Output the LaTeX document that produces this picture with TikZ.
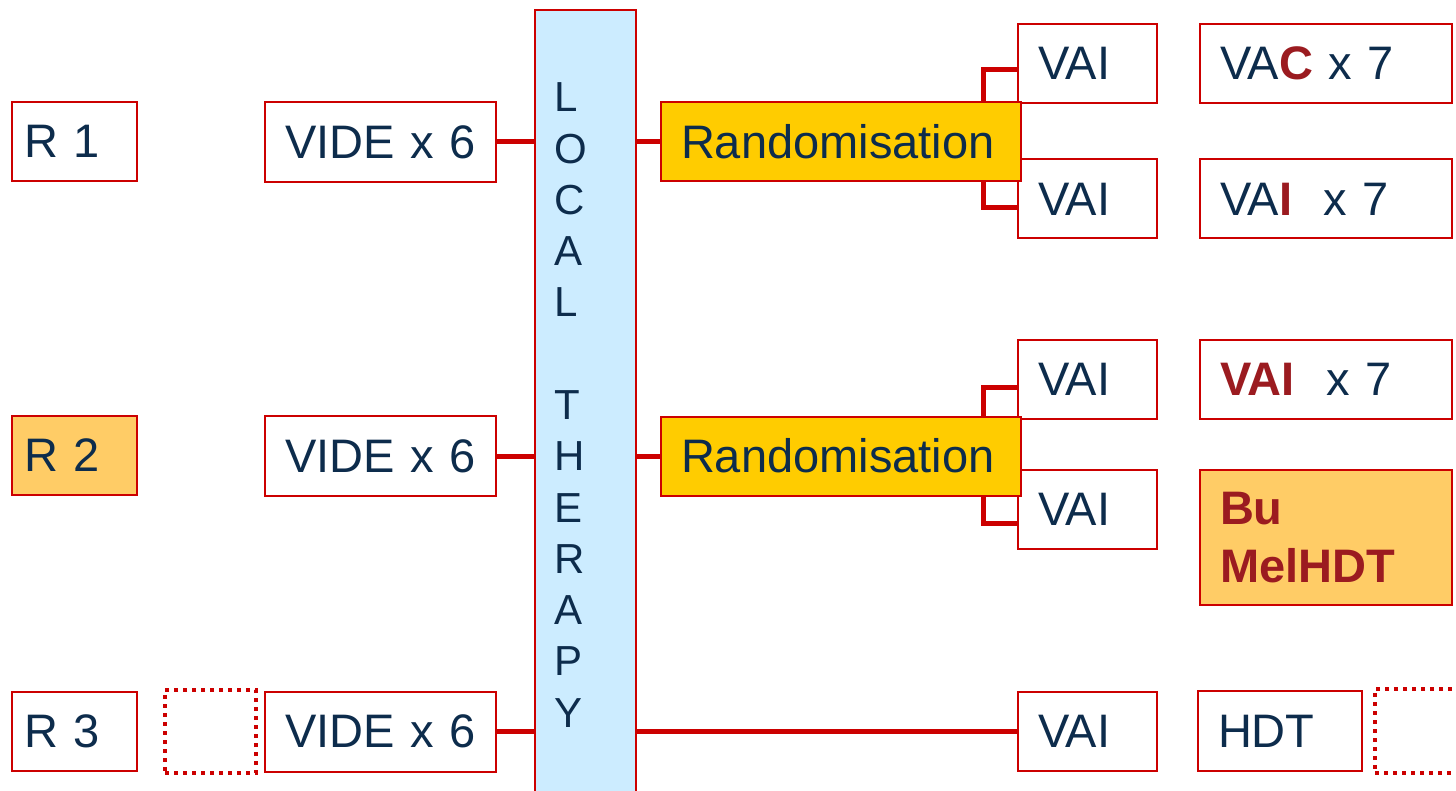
\documentclass[tikz,border=0pt]{standalone}
\usepackage{fontspec}
\setmainfont{Liberation Sans}
\definecolor{boxred}{HTML}{CC0000}
\definecolor{navy}{HTML}{0D2C4C}
\definecolor{darkred}{HTML}{9B1B20}
\definecolor{orangefill}{HTML}{FFCC66}
\definecolor{yellowfill}{HTML}{FFCC00}
\definecolor{barblue}{HTML}{CCECFF}
\newcommand{\hl}[1]{\textcolor{darkred}{\bfseries #1}}
\tikzset{
  bx/.style={draw=boxred, line width=2pt, fill=white, inner xsep=20pt, inner ysep=0pt,
    align=left, text=navy, font=\fontsize{47}{58}\selectfont},
  rbx/.style={bx, inner xsep=12pt, text width=101pt, minimum height=79pt},
  vide/.style={bx, text width=191pt, minimum height=80pt},
  rand/.style={bx, fill=yellowfill, text width=320pt, minimum height=79pt},
  vai/.style={bx, text width=99pt, minimum height=79pt},
  rgt/.style={bx, text width=212pt, minimum height=79pt},
  conn/.style={draw=boxred, line width=5pt},
  dotbox/.style={draw=boxred, line width=4pt, dash pattern=on 4pt off 5pt},
  barletter/.style={font=\fontsize{42}{50}\selectfont, text=navy, anchor=base west, inner sep=0pt},
}
\begin{document}
\begin{tikzpicture}[x=1pt,y=-1pt]
\useasboundingbox (0,0) rectangle (1456,791);
% left column
\node[rbx] (r1) at (74.5,141.5) {R 1};
\node[rbx, fill=orangefill] (r2) at (74.5,455) {R 2};
\node[rbx] (r3) at (74.5,731) {R 3};
\node[dotbox, minimum width=91pt, minimum height=83pt, inner sep=0pt] (d1) at (210.5,731.5) {};
\node[vide] (v1) at (380.5,142) {VIDE x 6};
\node[vide] (v2) at (380.5,456) {VIDE x 6};
\node[vide] (v3) at (380.5,731.5) {VIDE x 6};
% local therapy bar
\node[draw=boxred, line width=2pt, fill=barblue, minimum width=101pt, minimum height=800pt, inner sep=0pt] (bar) at (585.5,410) {};
\foreach \ch/\k in {L/0,O/1,C/2,A/3,L/4,T/6,H/7,E/8,R/9,A/10,P/11,Y/12}
  \node[barletter] (lt\k) at (554,{112+51.25*\k}) {\ch};
% VAI column
\node[vai] (a1) at (1087.5,63.5) {VAI};
\node[vai] (a2) at (1087.5,199) {VAI};
\node[vai] (a3) at (1087.5,379.5) {VAI};
\node[vai] (a4) at (1087.5,509.5) {VAI};
\node[vai] (a5) at (1087.5,731) {VAI};
% randomisation
\node[rand] (rd1) at (841,142) {Randomisation};
\node[rand] (rd2) at (841,456) {Randomisation};
% right column
\node[rgt] (c1) at (1326,63.5) {VA\hl{C} x 7};
\node[rgt] (c2) at (1326,199) {VA\hl{I}~~x 7};
\node[rgt] (c3) at (1326,379.5) {\hl{VAI}~~x 7};
\node[rgt, fill=orangefill, minimum height=135pt] (c4) at (1326,537.5) {\hl{Bu}\\\hl{MelHDT}};
\node[bx, text width=124pt, minimum height=80pt] (c5) at (1280,731) {HDT};
\node[dotbox, minimum width=100pt, minimum height=84pt, inner sep=0pt] (d2) at (1425,731) {};
% connectors
\draw[conn] (v1.east) -- (v1.east -| bar.west);
\draw[conn] (v2.east) -- (v2.east -| bar.west);
\draw[conn] (v3.east) -- (v3.east -| bar.west);
\draw[conn] (rd1.west -| bar.east) -- (rd1.west);
\draw[conn] (rd2.west -| bar.east) -- (rd2.west);
\draw[conn] (a5.west -| bar.east) -- (a5.west);
\coordinate (k1) at (983,70);
\coordinate (k2) at (983,208);
\coordinate (k3) at (983,387);
\coordinate (k4) at (983,523);
\draw[conn] (k1 |- rd1.north) -- (k1) -- (k1 -| a1.west);
\draw[conn] (k2 |- rd1.south) -- (k2) -- (k2 -| a2.west);
\draw[conn] (k3 |- rd2.north) -- (k3) -- (k3 -| a3.west);
\draw[conn] (k4 |- rd2.south) -- (k4) -- (k4 -| a4.west);
\end{tikzpicture}
\end{document}
